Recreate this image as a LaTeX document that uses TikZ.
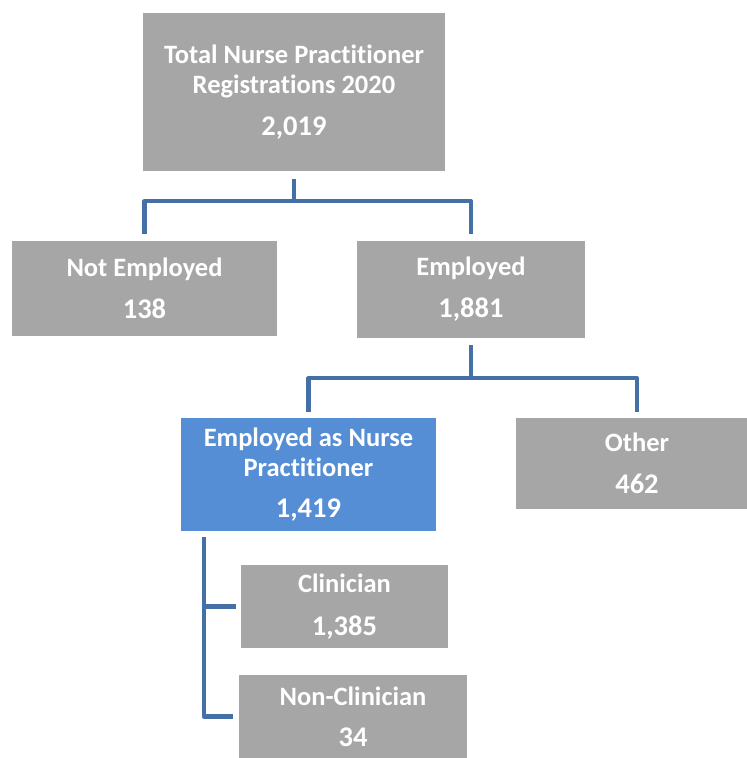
\documentclass[tikz,border=0pt]{standalone}
\usepackage{fontspec}
\setmainfont{Carlito}[Ligatures=NoCommon]
\definecolor{boxgray}{HTML}{A6A6A6}
\definecolor{boxblue}{HTML}{558ED5}
\definecolor{linkblue}{HTML}{4470A6}
\newcommand{\countlabel}[1]{{\fontsize{28.5}{30}\selectfont #1}}
\begin{document}
\begin{tikzpicture}[x=1pt,y=-1pt,
    orgbox/.style={fill=boxgray, text=white, inner sep=0pt, align=center,
      font=\fontsize{26.5}{30}\selectfont\bfseries},
    npbox/.style={orgbox, fill=boxblue},
    conn/.style={draw=linkblue, line width=4.2pt, line join=round}]
  \useasboundingbox (0,0) rectangle (747,758);
  % boxes
  \node[orgbox, minimum width=302pt, minimum height=158pt] (total) at (294,92)
    {Total Nurse Practitioner\\Registrations 2020\\[12pt]\countlabel{2,019}};
  \node[orgbox, minimum width=265pt, minimum height=95pt] (notemp) at (144.5,288.5)
    {Not Employed\\[12pt]\countlabel{138}};
  \node[orgbox, minimum width=228pt, minimum height=97pt] (emp) at (471,289.5)
    {Employed\\[12pt]\countlabel{1,881}};
  \node[npbox, minimum width=255pt, minimum height=113pt] (nurse) at (308.5,474.5)
    {Employed as Nurse\\Practitioner\\[11pt]\countlabel{1,419}};
  \node[orgbox, minimum width=242pt, minimum height=91pt] (other) at (637,463.5)
    {Other\\[12pt]\countlabel{462}};
  \node[orgbox, minimum width=207pt, minimum height=83pt] (clin) at (344.5,606.5)
    {Clinician\\[13pt]\countlabel{1,385}};
  \node[orgbox, minimum width=228pt, minimum height=83pt] (nonclin) at (353,716.5)
    {Non-Clinician\\[11pt]\countlabel{34}};
  % connectors
  \draw[conn] ([yshift=-8pt]total.south) -- ++(0,-22pt) -| ([yshift=7pt]notemp.north);
  \draw[conn] ([yshift=-8pt]total.south) -- ++(0,-22pt) -| ([yshift=7pt]emp.north);
  \draw[conn] ([yshift=-7pt]emp.south) -- ++(0,-33pt) -| ([yshift=6pt]nurse.north);
  \draw[conn] ([yshift=-7pt]emp.south) -- ++(0,-33pt) -| ([yshift=6pt]other.north);
  \draw[conn] ([xshift=23pt,yshift=-6pt]nurse.south west) |- ([xshift=-5pt]clin.west);
  \draw[conn] ([xshift=23pt,yshift=-6pt]nurse.south west) |- ([xshift=-6pt]nonclin.west);
\end{tikzpicture}
\end{document}
